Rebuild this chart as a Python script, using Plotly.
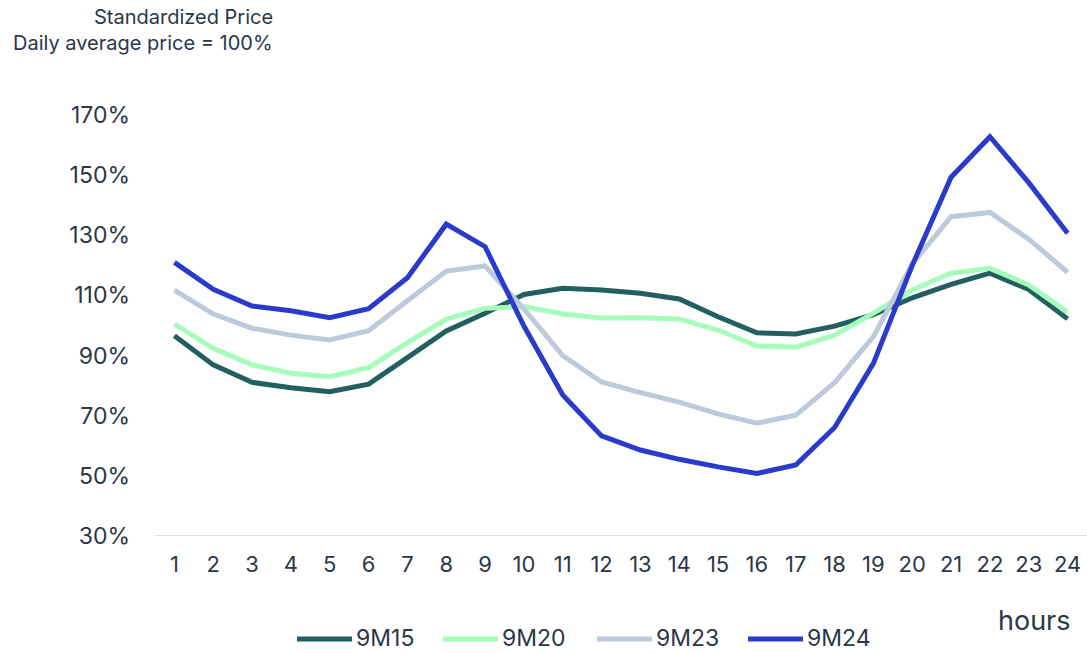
import plotly.graph_objects as go

hours = list(range(1, 25))
y_ticks = [30, 50, 70, 90, 110, 130, 150, 170]
y_tick_labels = [f"{v}%" for v in y_ticks]

s_9m15 = [96.6, 86.9, 81.1, 79.3, 78.0, 80.5, 89.3, 98.2, 104.1, 110.3, 112.4, 111.8,
          110.7, 108.8, 102.9, 97.6, 97.2, 99.8, 103.6, 109.2, 113.7, 117.4, 112.0, 102.2]
s_9m20 = [100.5, 92.4, 86.9, 84.1, 83.0, 86.0, 94.3, 102.1, 105.7, 106.3, 103.8, 102.5,
          102.6, 102.2, 98.5, 93.2, 92.8, 96.8, 104.1, 111.8, 117.4, 119.0, 113.5, 104.4]
s_9m23 = [111.8, 103.8, 99.1, 96.8, 95.2, 98.3, 108.2, 118.1, 119.8, 105.5, 90.0, 81.2,
          77.7, 74.5, 70.6, 67.5, 70.2, 81.0, 96.3, 120.5, 136.2, 137.6, 128.7, 117.7]
s_9m24 = [121.0, 112.0, 106.5, 104.9, 102.6, 105.6, 115.9, 133.7, 126.2, 99.8, 76.9, 63.3,
          58.6, 55.5, 53.0, 50.8, 53.6, 66.1, 87.4, 120.0, 149.3, 162.8, 147.5, 130.7]

series_names = ["9M15", "9M20", "9M23", "9M24"]
series_values = [s_9m15, s_9m20, s_9m23, s_9m24]
series_colors = ["#215f60", "#a6fcbb", "#bccadc", "#2a3acb"]

font_family = "Inter, Open Sans, sans-serif"
text_color = "#2b3747"

# plot-area geometry (pixels)
L, R, T, B = 155, 0, 115, 117
W, H = 1087, 653
PW, PH = W - L - R, H - T - B


def px_x(px):
    return (px - L) / PW


def px_y(py):
    return (H - B - py) / PH


fig = go.Figure()
for name, vals, color in zip(series_names, series_values, series_colors):
    fig.add_trace(go.Scatter(
        x=hours, y=vals, name=name, mode="lines",
        line=dict(color=color, width=5), showlegend=False,
    ))

shapes = [dict(type="line", xref="paper", yref="y", x0=0, x1=1, y0=30, y1=30,
               line=dict(color="#d7e0ec", width=2), layer="below")]
annotations = [
    dict(text="Standardized Price", xref="paper", yref="paper",
         x=px_x(275), y=px_y(17), xanchor="right", yanchor="middle",
         showarrow=False, font=dict(size=20, color=text_color)),
    dict(text="Daily average price = 100%", xref="paper", yref="paper",
         x=px_x(275), y=px_y(43), xanchor="right", yanchor="middle",
         showarrow=False, font=dict(size=20, color=text_color)),
    dict(text="hours", xref="paper", yref="paper",
         x=px_x(1073), y=px_y(620), xanchor="right", yanchor="middle",
         showarrow=False, font=dict(size=27, color=text_color)),
]

# custom legend
legend_starts = [297, 443, 597, 748]
legend_y = 639
for name, color, x0 in zip(series_names, series_colors, legend_starts):
    shapes.append(dict(type="line", xref="paper", yref="paper",
                       x0=px_x(x0), x1=px_x(x0 + 55), y0=px_y(legend_y), y1=px_y(legend_y),
                       line=dict(color=color, width=5)))
    annotations.append(dict(text=name, xref="paper", yref="paper",
                            x=px_x(x0 + 58), y=px_y(legend_y - 1), xanchor="left", yanchor="middle",
                            showarrow=False, borderpad=0,
                            font=dict(size=23, color=text_color)))

fig.update_layout(
    width=W, height=H,
    margin=dict(l=L, r=R, t=T, b=B, autoexpand=False),
    paper_bgcolor="white", plot_bgcolor="white",
    font=dict(family=font_family, color=text_color, size=22),
    showlegend=False,
    xaxis=dict(
        range=[0.5, 24.5], tickmode="array", tickvals=hours,
        ticktext=[str(h) for h in hours],
        showgrid=False, zeroline=False, showline=False,
        ticks="", ticklabelstandoff=13,
        tickfont=dict(size=22, color=text_color),
    ),
    yaxis=dict(
        range=[30, 170], tickmode="array", tickvals=y_ticks,
        ticktext=y_tick_labels,
        showgrid=False, zeroline=False, showline=False,
        ticks="", ticklabelstandoff=24,
        tickfont=dict(size=23, color=text_color),
    ),
    shapes=shapes,
    annotations=annotations,
)

fig.write_html("out.html", config={"displayModeBar": False},
               post_script="document.body.style.margin='0px';")
